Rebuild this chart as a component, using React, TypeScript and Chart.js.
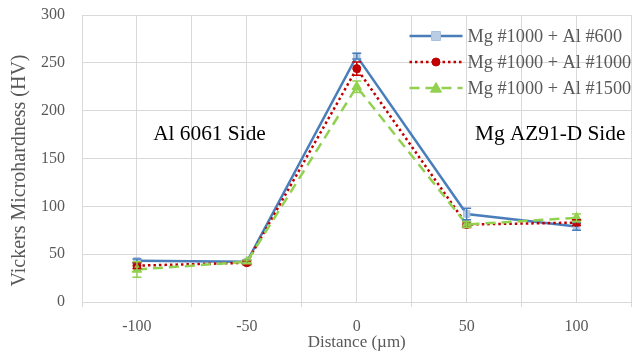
import React, { useEffect, useRef } from 'react';
import { Chart, registerables } from 'chart.js';

Chart.register(...registerables);

// ---- data ----
const categories = [-100, -50, 0, 50, 100];
const seriesNames = ['Mg #1000 + Al #600', 'Mg #1000 + Al #1000', 'Mg #1000 + Al #1500'];
const al600 = [43, 42, 257, 92, 79];
const al1000 = [38, 41, 244, 81, 83];
const al1500 = [34, 42, 225, 81, 88];
const al600Err = [2, 2, 3, 6, 4];
const al1000Err = [3, 2, 7, 3, 3];
const al1500Err = [8, 2, 6, 3, 4];
const yTickValues = [0, 50, 100, 150, 200, 250, 300];
const sideLabels = ['Al 6061 Side', 'Mg AZ91-D Side'];
const xTitle = 'Distance (\u00b5m)';
const yTitle = 'Vickers Microhardness (HV)';

const FONT = '"Liberation Serif", "Times New Roman", serif';
const GRID = '#d9d9d9';
const TEXT = '#595959';

const styles = [
  { color: '#4a7ebb', dash: [] as number[], marker: 'rect', mFill: '#b9cde5', mBorder: '#a9c1e0', radius: 4.5 },
  { color: '#c00000', dash: [2.5, 3], marker: 'circle', mFill: '#c00000', mBorder: '#c00000', radius: 4 },
  { color: '#92d050', dash: [10, 6], marker: 'triangle', mFill: '#92d050', mBorder: '#92d050', radius: 5.5 },
];

const seriesValues = [al600, al1000, al1500];
const seriesErrors = [al600Err, al1000Err, al1500Err];

function drawMarker(ctx: CanvasRenderingContext2D, kind: string, x: number, y: number, r: number, fill: string, stroke: string) {
  ctx.save();
  ctx.setLineDash([]);
  ctx.fillStyle = fill;
  ctx.strokeStyle = stroke;
  ctx.lineWidth = 1;
  ctx.beginPath();
  if (kind === 'rect') {
    ctx.rect(x - r, y - r, 2 * r, 2 * r);
  } else if (kind === 'circle') {
    ctx.arc(x, y, r, 0, Math.PI * 2);
  } else {
    ctx.moveTo(x, y - r);
    ctx.lineTo(x + r, y + r * 0.75);
    ctx.lineTo(x - r, y + r * 0.75);
    ctx.closePath();
  }
  ctx.fill();
  ctx.stroke();
  ctx.restore();
}

const errorBarPlugin = {
  id: 'errorBars',
  afterDatasetsDraw(chart: any) {
    const ctx = chart.ctx as CanvasRenderingContext2D;
    const ys = chart.scales.y;
    chart.data.datasets.forEach((ds: any, di: number) => {
      const meta = chart.getDatasetMeta(di);
      const errs = seriesErrors[di];
      ctx.save();
      ctx.strokeStyle = styles[di].color;
      ctx.lineWidth = 1.5;
      ctx.setLineDash([]);
      meta.data.forEach((pt: any, i: number) => {
        const v = seriesValues[di][i];
        const e = errs[i];
        const yt = ys.getPixelForValue(v + e);
        const yb = ys.getPixelForValue(v - e);
        const x = pt.x;
        ctx.beginPath();
        ctx.moveTo(x, yt);
        ctx.lineTo(x, yb);
        ctx.moveTo(x - 4.5, yt);
        ctx.lineTo(x + 4.5, yt);
        ctx.moveTo(x - 4.5, yb);
        ctx.lineTo(x + 4.5, yb);
        ctx.stroke();
      });
      ctx.restore();
    });
  },
};

const decorPlugin = {
  id: 'decor',
  afterDraw(chart: any) {
    const ctx = chart.ctx as CanvasRenderingContext2D;
    const xs = chart.scales.x;
    const ys = chart.scales.y;
    const area = chart.chartArea;
    ctx.save();
    // side annotations
    ctx.fillStyle = '#000000';
    ctx.font = `21.33px ${FONT}`;
    ctx.textAlign = 'center';
    ctx.textBaseline = 'middle';
    ctx.fillText(sideLabels[0], xs.getPixelForValue(-67), ys.getPixelForValue(175));
    ctx.fillText(sideLabels[1], xs.getPixelForValue(88), ys.getPixelForValue(175));

    // y axis title
    ctx.save();
    ctx.fillStyle = TEXT;
    ctx.font = `20px ${FONT}`;
    ctx.translate(20, (area.top + area.bottom) / 2 + 12);
    ctx.rotate(-Math.PI / 2);
    ctx.fillText(yTitle, 0, 0);
    ctx.restore();

    // legend
    const lx0 = area.right - 222;
    const lx1 = lx0 + 53;
    seriesNames.forEach((name, i) => {
      const st = styles[i];
      const y = area.top + 21 + i * 26;
      ctx.save();
      ctx.strokeStyle = st.color;
      ctx.lineWidth = 2.5;
      ctx.setLineDash(st.dash);
      ctx.beginPath();
      ctx.moveTo(lx0, y);
      ctx.lineTo(lx1, y);
      ctx.stroke();
      ctx.restore();
      drawMarker(ctx, st.marker, (lx0 + lx1) / 2, y, st.radius, st.mFill, st.mBorder);
      ctx.fillStyle = TEXT;
      ctx.font = `18.3px ${FONT}`;
      ctx.textAlign = 'left';
      ctx.textBaseline = 'middle';
      ctx.fillText(name, lx1 + 5, y + 1);
    });
    ctx.restore();
  },
};

export default function App() {
  const ref = useRef<HTMLCanvasElement | null>(null);
  useEffect(() => {
    if (!ref.current) return;
    const datasets = seriesNames.map((name, i) => ({
      label: name,
      data: categories.map((c, j) => ({ x: c, y: seriesValues[i][j] })),
      borderColor: styles[i].color,
      backgroundColor: styles[i].mFill,
      borderWidth: 2.5,
      borderDash: styles[i].dash,
      pointStyle: styles[i].marker,
      pointRadius: styles[i].radius,
      pointBackgroundColor: styles[i].mFill,
      pointBorderColor: styles[i].mBorder,
      pointBorderWidth: 1,
      tension: 0,
      order: 3 - i,
    }));
    const chart = new Chart(ref.current, {
      type: 'line',
      data: { datasets },
      options: {
        animation: false,
        responsive: false,
        events: [],
        layout: { padding: { top: 15, right: 6, left: 0, bottom: 0 } },
        plugins: { legend: { display: false }, tooltip: { enabled: false } },
        scales: {
          x: {
            type: 'linear',
            min: -125,
            max: 125,
            afterFit: (s: any) => {
              s.height = 54;
              s.paddingLeft = 0;
              s.paddingRight = 0;
            },
            border: { color: GRID, width: 1 },
            grid: {
              color: GRID,
              lineWidth: 1,
              drawTicks: true,
              tickLength: 5,
              tickColor: (c: any) => (c.tick && Math.abs(c.tick.value) % 50 === 25 ? GRID : 'rgba(0,0,0,0)'),
            },
            ticks: {
              stepSize: 25,
              autoSkip: false,
              maxRotation: 0,
              color: TEXT,
              padding: 10,
              font: { family: FONT, size: 16 },
              callback: (v: any) => (categories.includes(Number(v)) ? String(v) : ''),
            },
            title: {
              display: true,
              text: xTitle,
              color: TEXT,
              font: { family: FONT, size: 17 },
              padding: { top: 0, bottom: 3 },
            },
          },
          y: {
            min: 0,
            max: 300,
            afterFit: (s: any) => {
              s.width = 82;
              s.paddingTop = 0;
              s.paddingBottom = 0;
            },
            afterBuildTicks: (s: any) => { s.ticks = yTickValues.map((v) => ({ value: v })); },
            border: { display: false },
            grid: { color: GRID, lineWidth: 1, drawTicks: false },
            ticks: {
              color: TEXT,
              padding: 17,
              font: { family: FONT, size: 16 },
            },
          },
        },
      },
      plugins: [errorBarPlugin, decorPlugin],
    });
    return () => chart.destroy();
  }, []);
  return (
    <div style={{ position: 'fixed', left: 0, top: 0, width: 638, height: 356, background: '#fff' }}>
      <canvas ref={ref} width={638} height={356} style={{ display: 'block' }} />
    </div>
  );
}
